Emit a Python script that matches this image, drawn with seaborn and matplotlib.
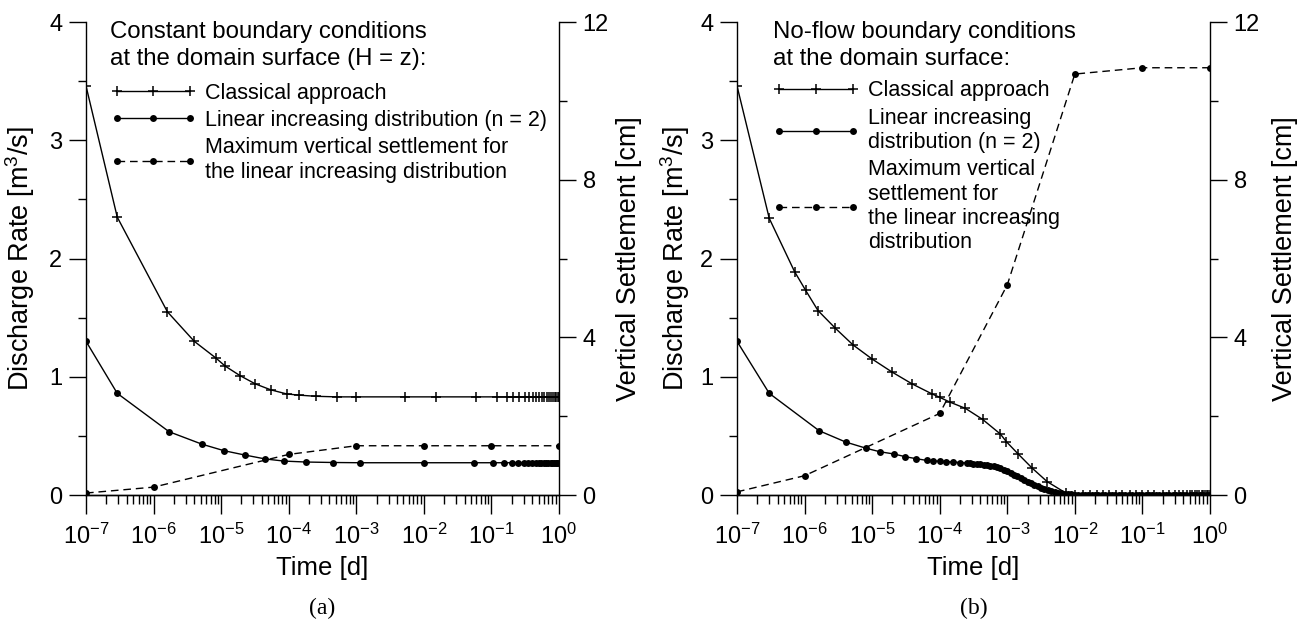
import matplotlib
matplotlib.use("Agg")
import matplotlib.pyplot as plt
import seaborn as sns
from matplotlib.ticker import FixedLocator, LogLocator, NullFormatter, LogFormatterSciNotation

# ---------------- panel (a): constant head at the domain surface ----------------
t_cls_a = [1e-7, 2.9e-7, 1.6e-6, 4.0e-6, 8.3e-6, 1.15e-5, 1.9e-5, 3.2e-5, 5.4e-5,
           9.3e-5, 1.4e-4, 2.5e-4, 5.2e-4, 1.0e-3, 5.2e-3, 1.5e-2, 0.06, 0.12,
           0.17, 0.21, 0.26, 0.31, 0.36, 0.41, 0.46, 0.51, 0.56, 0.61, 0.66,
           0.71, 0.76, 0.81, 0.86, 0.91, 0.96, 1.0]
q_cls_a = [3.46, 2.35, 1.55, 1.30, 1.16, 1.09, 1.01, 0.94, 0.89,
           0.855, 0.845, 0.835, 0.83, 0.83, 0.83, 0.83, 0.83, 0.83,
           0.83, 0.83, 0.83, 0.83, 0.83, 0.83, 0.83, 0.83, 0.83, 0.83, 0.83,
           0.83, 0.83, 0.83, 0.83, 0.83, 0.83, 0.83]

t_lin_a = [1e-7, 2.9e-7, 1.7e-6, 5.2e-6, 1.1e-5, 2.25e-5, 4.5e-5, 8.5e-5, 1.8e-4,
           4.6e-4, 1.15e-3, 1.0e-2, 0.055, 0.105, 0.155, 0.2, 0.25, 0.3, 0.35,
           0.4, 0.45, 0.5, 0.55, 0.6, 0.65, 0.7, 0.75, 0.8, 0.85, 0.9, 0.95, 1.0]
q_lin_a = [1.30, 0.86, 0.535, 0.43, 0.375, 0.338, 0.305, 0.287, 0.279,
           0.275, 0.273, 0.273, 0.273, 0.273, 0.273, 0.273, 0.273, 0.273, 0.273,
           0.273, 0.273, 0.273, 0.273, 0.273, 0.273, 0.273, 0.273, 0.273, 0.273,
           0.273, 0.273, 0.273]

t_set_a = [1e-7, 1e-6, 1e-4, 1e-3, 1e-2, 1e-1, 1.0]
s_set_a = [0.05, 0.20, 1.03, 1.25, 1.25, 1.25, 1.25]

# ---------------- panel (b): no-flow condition at the domain surface ----------------
t_cls_b = [1e-7, 3.0e-7, 7.1e-7, 1.04e-6, 1.58e-6, 2.86e-6, 5.2e-6, 1.0e-5, 1.97e-5,
           3.9e-5, 7.7e-5, 1.0e-4, 1.44e-4, 2.4e-4, 4.3e-4, 7.9e-4, 9.7e-4, 1.45e-3,
           2.35e-3, 3.9e-3, 7.5e-3, 1.0e-2, 1.3e-2, 1.7e-2, 2.1e-2, 2.6e-2, 3.2e-2,
           4.1e-2, 5.0e-2, 6.5e-2, 8.0e-2, 0.1, 0.12, 0.15, 0.2, 0.25, 0.3, 0.35,
           0.4, 0.45, 0.5, 0.55, 0.6, 0.65, 0.7, 0.75, 0.8, 0.85, 0.9, 0.95, 1.0]
q_cls_b = [3.46, 2.34, 1.89, 1.73, 1.56, 1.41, 1.27, 1.15, 1.04,
           0.94, 0.855, 0.826, 0.784, 0.733, 0.64, 0.516, 0.451, 0.347,
           0.226, 0.113, 0.014, 0.003, 0.0, 0.0, 0.0, 0.0, 0.0,
           0.0, 0.0, 0.0, 0.0, 0.0, 0.0, 0.0, 0.0, 0.0, 0.0, 0.0,
           0.0, 0.0, 0.0, 0.0, 0.0, 0.0, 0.0, 0.0, 0.0, 0.0, 0.0, 0.0, 0.0]

t_lin_b = [1e-7, 3.0e-7, 1.64e-6, 4.06e-6, 8.2e-6, 1.3e-5, 2.1e-5, 3.1e-5, 4.5e-5,
           6.4e-5, 7.9e-5, 1.0e-4, 1.26e-4, 1.58e-4, 2.0e-4, 2.51e-4, 2.82e-4,
           3.16e-4, 3.55e-4, 3.98e-4, 4.47e-4, 5.01e-4, 5.62e-4, 6.31e-4, 7.08e-4,
           7.94e-4, 8.91e-4, 1.0e-3, 1.12e-3, 1.26e-3, 1.41e-3, 1.58e-3, 1.78e-3,
           2.0e-3, 2.24e-3, 2.51e-3, 2.82e-3, 3.16e-3, 3.55e-3, 3.98e-3, 4.47e-3,
           5.01e-3, 5.62e-3, 6.31e-3, 7.08e-3, 7.94e-3, 8.91e-3, 1.0e-2,
           1.12e-2, 1.26e-2, 1.41e-2, 1.58e-2, 1.78e-2, 2.0e-2, 2.24e-2, 2.51e-2,
           2.82e-2, 3.16e-2, 3.55e-2, 3.98e-2, 4.47e-2, 5.01e-2, 5.62e-2, 6.31e-2,
           7.08e-2, 7.94e-2, 8.91e-2, 0.1, 0.112, 0.126, 0.141, 0.158, 0.178, 0.2,
           0.224, 0.251, 0.282, 0.316, 0.355, 0.398, 0.447, 0.501, 0.562, 0.631,
           0.708, 0.794, 0.891, 1.0]
q_lin_b = [1.30, 0.86, 0.544, 0.448, 0.395, 0.366, 0.347, 0.324, 0.307,
           0.293, 0.289, 0.286, 0.283, 0.279, 0.275, 0.271, 0.2685,
           0.266, 0.2635, 0.261, 0.257, 0.253, 0.248, 0.242, 0.234,
           0.225, 0.213, 0.200, 0.186, 0.172, 0.157, 0.142, 0.127,
           0.112, 0.099, 0.086, 0.074, 0.062, 0.052, 0.042, 0.034,
           0.027, 0.021, 0.016, 0.012, 0.008, 0.005, 0.003,
           0.0, 0.0, 0.0, 0.0, 0.0, 0.0, 0.0, 0.0,
           0.0, 0.0, 0.0, 0.0, 0.0, 0.0, 0.0, 0.0,
           0.0, 0.0, 0.0, 0.0, 0.0, 0.0, 0.0, 0.0, 0.0, 0.0,
           0.0, 0.0, 0.0, 0.0, 0.0, 0.0, 0.0, 0.0, 0.0, 0.0,
           0.0, 0.0, 0.0, 0.0]

t_set_b = [1e-7, 1e-6, 1e-4, 1e-3, 1e-2, 1e-1, 1.0]
s_set_b = [0.08, 0.49, 2.07, 5.33, 10.68, 10.84, 10.84]

x_ticks = [1e-7, 1e-6, 1e-5, 1e-4, 1e-3, 1e-2, 1e-1, 1e0]
q_ticks = [0, 1, 2, 3, 4]
s_ticks = [0, 4, 8, 12]

legend_a = ["Classical approach",
            "Linear increasing distribution (n = 2)",
            "Maximum vertical settlement for\nthe linear increasing distribution"]
title_a = "Constant boundary conditions\nat the domain surface (H = z):"
legend_b = ["Classical approach",
            "Linear increasing\ndistribution (n = 2)",
            "Maximum vertical\nsettlement for\nthe linear increasing\ndistribution"]
title_b = "No-flow boundary conditions\nat the domain surface:"

sns.set_theme(style="ticks")
plt.rcParams["font.family"] = ["Liberation Sans", "DejaVu Sans"]
plt.rcParams["mathtext.fontset"] = "custom"
plt.rcParams["mathtext.rm"] = "Liberation Sans"
plt.rcParams["mathtext.it"] = "Liberation Sans:italic"
plt.rcParams["axes.edgecolor"] = "black"
plt.rcParams["axes.linewidth"] = 1.0
plt.rcParams["xtick.color"] = "black"
plt.rcParams["ytick.color"] = "black"
plt.rcParams["text.color"] = "black"
plt.rcParams["axes.labelcolor"] = "black"

fig = plt.figure(figsize=(12.99, 6.24), dpi=100)
fig.patch.set_facecolor("white")

TICK_FS = 17
XLABEL_FS = 18.5
YLABEL_FS = 19.5
LEG_FS = 15.5
TITLE_FS = 17.3


def draw_panel(left, tc, qc, tl, ql, ts, ss, labels, title, tag, leg_x,
               leg_y, lpad_left, lpad_right):
    ax = fig.add_axes([left, 0.2067, 0.3641, 0.758])
    ax.set_facecolor("none")
    ax2 = ax.twinx()
    ax.set_zorder(ax2.get_zorder() + 1)

    sns.lineplot(x=tc, y=qc, ax=ax, color="black", linewidth=1.0, marker="+",
                 markersize=7, markeredgewidth=1.1, markeredgecolor="black",
                 estimator=None, sort=False)
    sns.lineplot(x=tl, y=ql, ax=ax, color="black", linewidth=1.0, marker="o",
                 markersize=5, markeredgewidth=0, markerfacecolor="black",
                 estimator=None, sort=False)
    sns.lineplot(x=ts, y=ss, ax=ax2, color="black", linewidth=1.0, marker="o",
                 markersize=5, markeredgewidth=0, markerfacecolor="black",
                 linestyle=(0, (5.5, 3.5)), estimator=None, sort=False)

    for a in (ax, ax2):
        a.set_xscale("log")
        a.set_xlim(1e-7, 1.0)
        a.spines["top"].set_visible(False)
    ax.spines["right"].set_visible(False)
    ax2.spines["left"].set_visible(False)

    ax.set_ylim(0, 4)
    ax.yaxis.set_major_locator(FixedLocator(q_ticks))
    ax.yaxis.set_minor_locator(FixedLocator([0.5, 1.5, 2.5, 3.5]))
    ax2.set_ylim(0, 12)
    ax2.yaxis.set_major_locator(FixedLocator(s_ticks))
    ax2.yaxis.set_minor_locator(FixedLocator([2, 6, 10]))

    ax.xaxis.set_major_locator(FixedLocator(x_ticks))
    ax.xaxis.set_major_formatter(LogFormatterSciNotation())
    ax.xaxis.set_minor_locator(LogLocator(base=10, subs=(2, 3, 4, 5, 6, 7, 8, 9), numticks=20))
    ax.xaxis.set_minor_formatter(NullFormatter())

    ax.tick_params(axis="x", which="major", direction="out", length=13.5, width=1.0,
                   labelsize=TICK_FS, pad=7)
    ax.tick_params(axis="x", which="minor", direction="out", length=6.5, width=1.0)
    ax.tick_params(axis="y", which="major", direction="out", length=12, width=1.0,
                   labelsize=TICK_FS, pad=5)
    ax.tick_params(axis="y", which="minor", direction="out", length=6, width=1.0)
    ax2.tick_params(axis="y", which="major", direction="out", length=12, width=1.0,
                    labelsize=TICK_FS, pad=5)
    ax2.tick_params(axis="y", which="minor", direction="out", length=6, width=1.0)
    ax2.tick_params(axis="x", which="both", length=0)

    ax.set_xlabel("Time [d]", fontsize=XLABEL_FS, labelpad=5)
    ax.set_ylabel("Discharge Rate [m$^3$/s]", fontsize=YLABEL_FS, labelpad=lpad_left)
    ax2.set_ylabel("Vertical Settlement [cm]", fontsize=YLABEL_FS, labelpad=lpad_right)

    handles = [ax.get_lines()[0], ax.get_lines()[1], ax2.get_lines()[0]]
    if ax.get_legend() is not None:
        ax.get_legend().remove()
    if ax2.get_legend() is not None:
        ax2.get_legend().remove()

    # heading of the key, then the key entries below it
    ax.text(leg_x, 1.002, title, transform=ax.transAxes, ha="left", va="top",
            fontsize=TITLE_FS, linespacing=1.3)
    ax.legend(handles, labels, loc="upper left",
              bbox_to_anchor=(leg_x, leg_y), frameon=False, fontsize=LEG_FS,
              numpoints=3, handlelength=4.0, handletextpad=0.4,
              labelspacing=0.3, borderpad=0, borderaxespad=0)

    fig.text(left + 0.3641 / 2, 1 - 608 / 624, tag, ha="center", va="center",
             fontsize=17, family="Liberation Serif")
    return ax, ax2


draw_panel(86 / 1299, t_cls_a, q_cls_a, t_lin_a, q_lin_a, t_set_a, s_set_a,
           legend_a, title_a, "(a)", 0.051, 0.872, 9, 5)
draw_panel(737 / 1299, t_cls_b, q_cls_b, t_lin_b, q_lin_b, t_set_b, s_set_b,
           legend_b, title_b, "(b)", 0.076, 0.877, 6, 9)

fig.savefig("out.png", dpi=100, facecolor="white")
